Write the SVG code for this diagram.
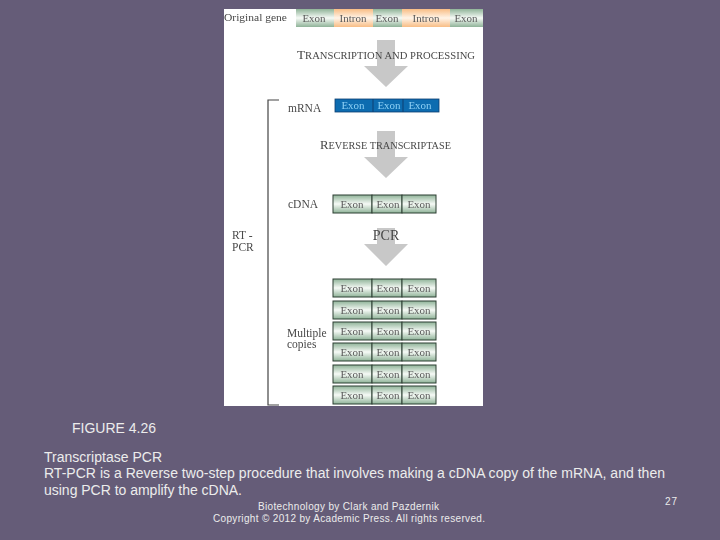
<svg xmlns="http://www.w3.org/2000/svg" width="720" height="540" viewBox="0 0 720 540">
<style>
.ft{font-family:"Liberation Sans",Arial,sans-serif;fill:#ececec}
.s{font-family:"Liberation Serif","Times New Roman",serif;fill:#484848}
.ex{font-family:"Liberation Serif","Times New Roman",serif;font-size:11px;fill:#5a5a5a;text-anchor:middle}
.m{fill:#8fd0f5}
.cell{fill:url(#gr);stroke:#2c3f33;stroke-width:1}
.arrow{fill:#c8c8c8}
.br{fill:none;stroke:#444;stroke-width:1.2}
</style>
<defs>
<linearGradient id="gr" x1="0" y1="0" x2="0" y2="1"><stop offset="0" stop-color="#8fb398"/><stop offset=".5" stop-color="#f6faf6"/><stop offset="1" stop-color="#8fb398"/></linearGradient>
<linearGradient id="go" x1="0" y1="0" x2="0" y2="1"><stop offset="0" stop-color="#f8bd85"/><stop offset=".5" stop-color="#fff4e8"/><stop offset="1" stop-color="#f8bd85"/></linearGradient>
<filter id="soft" x="-5%" y="-5%" width="110%" height="110%"><feGaussianBlur stdDeviation="0.4"/></filter>
</defs>
<rect width="720" height="540" fill="#655c78"/>
<g id="figure" filter="url(#soft)">
<rect x="224" y="9" width="259" height="397" fill="#fff"/>
<g id="connectors">
<path class="arrow" d="M377 40H395V66H408L386 87 364 66H377Z"/>
<path class="arrow" d="M377 131H395V157H408L386 178 364 157H377Z"/>
<path class="arrow" d="M377 228H395V244H408L386 266 364 244H377Z"/>
<path class="br" d="M279 100H268V405H279"/>
</g>
<g id="original-gene">
<text class="s" x="224" y="21" font-size="11" textLength="63" lengthAdjust="spacingAndGlyphs">Original gene</text>
<rect x="296" y="9" width="38" height="18" fill="url(#gr)"/>
<rect x="334" y="9" width="39" height="18" fill="url(#go)"/>
<rect x="373" y="9" width="29" height="18" fill="url(#gr)"/>
<rect x="402" y="9" width="48" height="18" fill="url(#go)"/>
<rect x="450" y="9" width="33" height="18" fill="url(#gr)"/>
<text class="ex" x="314" y="22">Exon</text><text class="ex" x="353" y="22">Intron</text><text class="ex" x="387" y="22">Exon</text><text class="ex" x="426" y="22">Intron</text><text class="ex" x="466" y="22">Exon</text>
</g>
<text id="label-transcription" class="s" x="297" y="59" font-size="12.5" textLength="178" lengthAdjust="spacingAndGlyphs">T<tspan font-size="10">RANSCRIPTION AND PROCESSING</tspan></text>
<g id="mrna">
<text class="s" x="288" y="112" font-size="11.5">mRNA</text>
<rect x="335" y="99" width="104" height="13" fill="#0a6cb0" stroke="#0b3f70" stroke-width=".8"/>
<path d="M373 99V112M403 99V112" stroke="#0b3f70"/>
<text class="ex m" x="353" y="109">Exon</text><text class="ex m" x="389" y="109">Exon</text><text class="ex m" x="420" y="109">Exon</text>
</g>
<text id="label-reverse" class="s" x="320" y="149" font-size="12.5" textLength="131" lengthAdjust="spacingAndGlyphs">R<tspan font-size="10">EVERSE TRANSCRIPTASE</tspan></text>
<g id="cdna">
<text class="s" x="288" y="208" font-size="11.5">cDNA</text>
<rect class="cell" x="333" y="195" width="39" height="18"/><rect class="cell" x="372" y="195" width="30" height="18"/><rect class="cell" x="402" y="195" width="34" height="18"/>
<text class="ex" x="352" y="208">Exon</text><text class="ex" x="388" y="208">Exon</text><text class="ex" x="419" y="208">Exon</text>
</g>
<text id="label-pcr" class="s" x="386" y="240" font-size="14" text-anchor="middle">PCR</text>
<g id="rt-pcr"><text class="s" x="232" y="239" font-size="11.5">RT -</text><text class="s" x="232" y="251" font-size="11.5">PCR</text></g>
<g id="multiple-copies"><text class="s" x="287" y="337" font-size="11.5">Multiple</text><text class="s" x="287" y="348" font-size="11.5">copies</text></g>
<g id="copy-1"><rect class="cell" x="333" y="279" width="39" height="18"/><rect class="cell" x="372" y="279" width="30" height="18"/><rect class="cell" x="402" y="279" width="34" height="18"/><text class="ex" x="352" y="292">Exon</text><text class="ex" x="388" y="292">Exon</text><text class="ex" x="419" y="292">Exon</text></g>
<g id="copy-2"><rect class="cell" x="333" y="301" width="39" height="18"/><rect class="cell" x="372" y="301" width="30" height="18"/><rect class="cell" x="402" y="301" width="34" height="18"/><text class="ex" x="352" y="314">Exon</text><text class="ex" x="388" y="314">Exon</text><text class="ex" x="419" y="314">Exon</text></g>
<g id="copy-3"><rect class="cell" x="333" y="322" width="39" height="18"/><rect class="cell" x="372" y="322" width="30" height="18"/><rect class="cell" x="402" y="322" width="34" height="18"/><text class="ex" x="352" y="335">Exon</text><text class="ex" x="388" y="335">Exon</text><text class="ex" x="419" y="335">Exon</text></g>
<g id="copy-4"><rect class="cell" x="333" y="343" width="39" height="18"/><rect class="cell" x="372" y="343" width="30" height="18"/><rect class="cell" x="402" y="343" width="34" height="18"/><text class="ex" x="352" y="356">Exon</text><text class="ex" x="388" y="356">Exon</text><text class="ex" x="419" y="356">Exon</text></g>
<g id="copy-5"><rect class="cell" x="333" y="365" width="39" height="18"/><rect class="cell" x="372" y="365" width="30" height="18"/><rect class="cell" x="402" y="365" width="34" height="18"/><text class="ex" x="352" y="378">Exon</text><text class="ex" x="388" y="378">Exon</text><text class="ex" x="419" y="378">Exon</text></g>
<g id="copy-6"><rect class="cell" x="333" y="386" width="39" height="18"/><rect class="cell" x="372" y="386" width="30" height="18"/><rect class="cell" x="402" y="386" width="34" height="18"/><text class="ex" x="352" y="399">Exon</text><text class="ex" x="388" y="399">Exon</text><text class="ex" x="419" y="399">Exon</text></g>
</g>
<g id="caption">
<text class="ft" x="72" y="433" font-size="14" textLength="84" lengthAdjust="spacingAndGlyphs">FIGURE 4.26</text>
<text class="ft" x="44" y="462" font-size="14" textLength="118">Transcriptase PCR</text>
<text class="ft" x="44" y="478" font-size="14" textLength="621">RT-PCR is a Reverse two-step procedure that involves making a cDNA copy of the mRNA, and then</text>
<text class="ft" x="44" y="495" font-size="14" textLength="198">using PCR to amplify the cDNA.</text>
<text class="ft" x="258" y="510" font-size="10" textLength="181">Biotechnology by Clark and Pazdernik</text>
<text class="ft" x="213" y="522" font-size="10" textLength="272">Copyright © 2012 by Academic Press. All rights reserved.</text>
<text class="ft" x="665" y="505" font-size="10" textLength="12">27</text>
</g>
</svg>
